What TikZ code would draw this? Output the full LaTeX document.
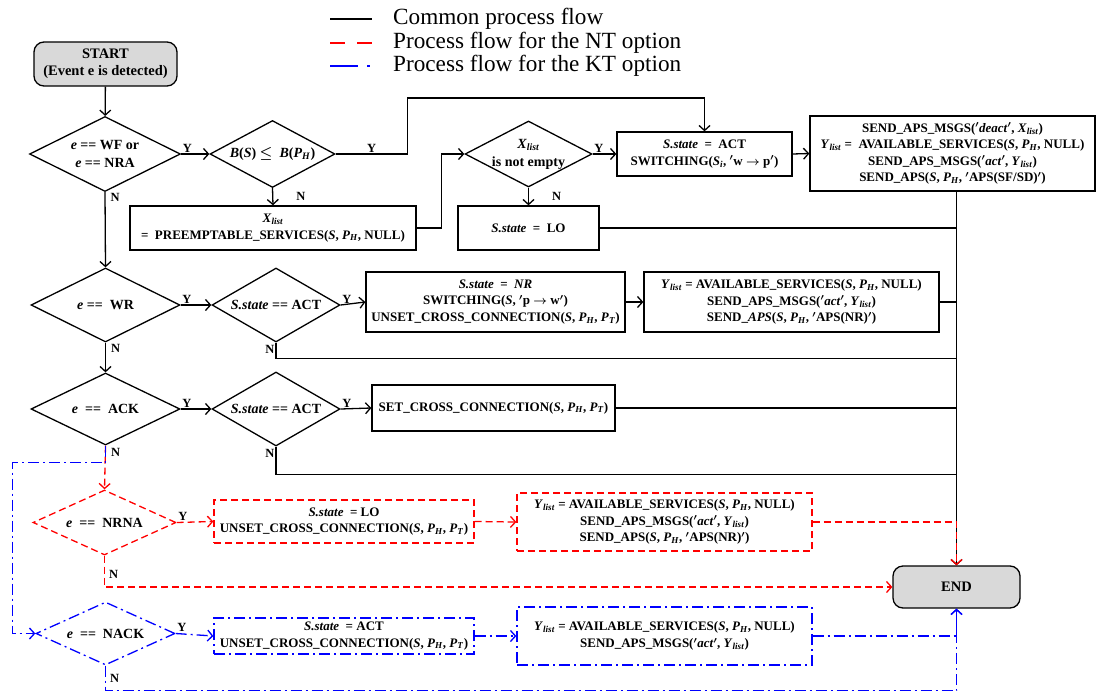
\documentclass[tikz,border=0pt]{standalone}
\usepackage{amsmath,amssymb}
\usepackage{fontspec}
\setmainfont{Liberation Serif}
\usetikzlibrary{arrows.meta,shapes.geometric,positioning,calc}
\definecolor{termgray}{RGB}{217,217,217}
\definecolor{ntred}{RGB}{255,0,0}
\definecolor{ktblue}{RGB}{0,0,255}
\newcommand{\iv}[1]{\textit{#1}}
\newcommand{\xl}{\textit{X}\textsubscript{\textit{list}}}
\newcommand{\yl}{\textit{Y}\textsubscript{\textit{list}}}
\newcommand{\pH}{\textit{P}\textsubscript{\textit{H}}}
\newcommand{\pT}{\textit{P}\textsubscript{\textit{T}}}
\newcommand{\pr}{\ensuremath{{}^{\prime}}}
\newcommand{\st}{\textit{S.state}}
\tikzset{
  term/.style={rectangle, rounded corners=10pt, draw=black, fill=termgray, line width=1.3pt,
               align=center, font=\fontsize{14.5}{17}\selectfont\bfseries, inner sep=1pt},
  proc/.style={rectangle, draw=black, line width=1.3pt, align=center,
               font=\fontsize{13}{16.5}\selectfont\bfseries\boldmath, inner sep=0pt},
  dec/.style={diamond, draw=black, line width=1.3pt, inner sep=0pt},
  dtxt/.style={font=\fontsize{14}{18}\selectfont\bfseries\boldmath, align=center, inner sep=0pt},
  yn/.style={font=\fontsize{12.5}{14}\selectfont\bfseries, inner sep=1pt},
  conn/.style={line width=1.3pt},
  flow/.style={conn, -{Straight Barb[length=5pt,width=11pt]}},
  nt/.style={draw=ntred, dash pattern=on 7pt off 4pt},
  kt/.style={draw=ktblue, dash pattern=on 11pt off 4pt on 2pt off 4pt},
  legtxt/.style={font=\fontsize{23.2}{24}\selectfont, anchor=west, inner sep=0pt},
}

\begin{document}
\begin{tikzpicture}[x=1pt, y=-1pt]
  \useasboundingbox (0,0) rectangle (1099,693);
  % legend
  \draw[line width=2.6pt] (330,19) -- (372,19);
  \draw[line width=2.6pt, ntred, dash pattern=on 15pt off 12pt] (330,43) -- (372,43);
  \draw[line width=2.6pt, ktblue, dash pattern=on 28pt off 9pt on 3pt off 9pt] (330,66) -- (372,66);
  \node[legtxt] (lg1) at (393,19) {Common process flow};
  \node[legtxt] (lg2) at (393,43) {Process flow for the NT option};
  \node[legtxt] (lg3) at (393,66) {Process flow for the KT option};

  % first row
  \node[term, minimum width=143pt, minimum height=44pt] (start) at (105.5,64)
    {START\\(Event e is detected)};
  \node[dec, minimum width=151pt, minimum height=75pt,
        label={[dtxt]center:\iv{e} == WF or\\\iv{e} == NRA}] (d1) at (105,154) {};
  \node[dec, minimum width=125pt, minimum height=67pt,
        label={[dtxt]center:\iv{B}(\iv{S}) $\leq$\ \ \iv{B}(\pH)}] (d2) at (272.5,154) {};
  \node[proc, minimum width=286pt, minimum height=44pt] (xl) at (273,228)
    {\xl\\= \ PREEMPTABLE\_SERVICES(\iv{S}, \pH, NULL)};
  \node[dec, minimum width=127pt, minimum height=66pt,
        label={[dtxt]center:\xl\\is not empty}] (d3) at (528.5,154) {};
  \node[proc, minimum width=141pt, minimum height=44pt] (lo) at (528.5,228)
    {\st\ \ =\ \ LO};
  \node[proc, minimum width=175pt, minimum height=44pt] (act) at (704.5,154)
    {\st\ \ =\ \ ACT\\SWITCHING(\iv{S}\textsubscript{\iv{i}}, \pr w $\rightarrow$ p\pr)};
  \node[proc, minimum width=285pt, minimum height=75pt] (snd1) at (952.5,153.5)
    {SEND\_APS\_MSGS(\pr\iv{deact}\pr, \xl)\\
     \yl\ = \ AVAILABLE\_SERVICES(\iv{S}, \pH, NULL)\\
     SEND\_APS\_MSGS(\pr\iv{act}\pr, \yl)\\
     SEND\_APS(\iv{S}, \pH, \pr APS(SF/SD)\pr)};
  \node[term, minimum width=127pt, minimum height=42pt] (end) at (956.5,587) {END};

  % second row
  \node[dec, minimum width=149pt, minimum height=74pt,
        label={[dtxt]center:\iv{e} == \ WR}] (d4) at (105.5,305) {};
  \node[dec, minimum width=128pt, minimum height=74pt,
        label={[dtxt]center:\st\ == ACT}] (d5) at (276,305) {};
  \node[proc, minimum width=259pt, minimum height=60pt] (nr) at (495.5,302)
    {\st\ \ =\ \ \iv{NR}\\SWITCHING(\iv{S}, \pr p $\rightarrow$ w\pr)\\
     UNSET\_CROSS\_CONNECTION(\iv{S}, \pH, \pT)};
  \node[proc, minimum width=295pt, minimum height=60pt] (snd2) at (791.5,302)
    {\yl\ = AVAILABLE\_SERVICES(\iv{S}, \pH, NULL)\\
     SEND\_APS\_MSGS(\pr\iv{act}\pr, \yl)\\
     SEND\_\iv{APS}(\iv{S}, \pH, \pr APS(NR)\pr)};

  % third row
  \node[dec, minimum width=149pt, minimum height=72pt,
        label={[dtxt]center:\iv{e} \ == \ ACK}] (d6) at (105.5,409) {};
  \node[dec, minimum width=128pt, minimum height=74pt,
        label={[dtxt]center:\st\ == ACT}] (d7) at (276,409) {};
  \node[proc, minimum width=243pt, minimum height=46pt] (setcc) at (493.5,408)
    {SET\_CROSS\_CONNECTION(\iv{S}, \pH, \pT)};

  % NT option
  \node[dec, nt, minimum width=143pt, minimum height=65pt,
        label={[dtxt]center:\iv{e} \ == \ NRNA}] (d8) at (104.5,522.5) {};
  \node[proc, nt, minimum width=260pt, minimum height=43pt] (locc) at (344,521.5)
    {\st\ \ = LO\\UNSET\_CROSS\_CONNECTION(\iv{S}, \pH, \pT)};
  \node[proc, nt, minimum width=295pt, minimum height=58pt] (snd3) at (664.5,522)
    {\yl\ = AVAILABLE\_SERVICES(\iv{S}, \pH, NULL)\\
     SEND\_APS\_MSGS(\pr\iv{act}\pr, \yl)\\
     SEND\_APS(\iv{S}, \pH, \pr APS(NR)\pr)};

  % KT option
  \node[dec, kt, minimum width=139pt, minimum height=63pt,
        label={[dtxt]center:\iv{e} \ == \ NACK}] (d9) at (105.5,633.5) {};
  \node[proc, kt, minimum width=260pt, minimum height=36pt] (actcc) at (344,636)
    {\st\ \ = ACT\\UNSET\_CROSS\_CONNECTION(\iv{S}, \pH, \pT)};
  \node[proc, kt, minimum width=295pt, minimum height=58pt] (snd4) at (664.5,636)
    {\yl\ = AVAILABLE\_SERVICES(\iv{S}, \pH, NULL)\\
     SEND\_APS\_MSGS(\pr\iv{act}\pr, \yl)};

  % common flow
  \draw[flow] (start) -- (d1);
  \draw[flow] (d1.east) -- node[yn, pos=0, anchor=south west] (y1) {Y} (d2.west);
  \draw[flow] (d2.east) -- node[yn, midway, above] (y2) {Y} ++(72,0) -- ++(0,-56) -| (act.north);
  \draw[flow] (d2.south) -- node[yn, midway, right, xshift=22pt] (n2) {N} (xl.north);
  \draw[flow] (xl.east) -- ++(25,0) |- (d3.west);
  \draw[flow] (d3.east) -- node[yn, pos=0, anchor=south west] (y3) {Y} (act.west);
  \draw[flow] (d3.south) -- node[yn, midway, right, xshift=22pt] (n3) {N} (lo.north);
  \draw[flow] (act.east) -- (snd1.west);
  \draw[conn] (lo.east) -- (lo.east -| end.north);
  \draw[flow] (d1.south) -- node[yn, pos=0, anchor=north west, xshift=4pt] (n1) {N} (d4.north);
  \draw[flow] (d4.east) -- node[yn, pos=0, anchor=south west] (y4) {Y} (d5.west);
  \draw[flow] (d5.east) -- node[yn, pos=0, anchor=south west] (y5) {Y} (nr.west);
  \draw[flow] (nr.east) -- (snd2.west);
  \draw[conn] (snd2.east) -- (snd2.east -| end.north);
  \draw[conn] (d5.south) -- node[yn, pos=0, anchor=north east, yshift=-1pt] (n5) {N} ++(0,16) -| (end.north);
  \draw[flow] (d4.south) -- node[yn, pos=0, anchor=north west, xshift=4pt] (n4) {N} (d6.north);
  \draw[flow] (d6.east) -- node[yn, pos=0, anchor=south west] (y6) {Y} (d7.west);
  \draw[flow] (d7.east) -- node[yn, pos=0, anchor=south west] (y7) {Y} (setcc.west);
  \draw[conn] (setcc.east) -- (setcc.east -| end.north);
  \draw[conn] (d7.south) -- node[yn, pos=0, anchor=north east, yshift=-1pt] (n7) {N} ++(0,28) -| (end.north);
  \draw[flow] (end.north |- snd1.south) -- (end.north);

  % NT flow
  \draw[flow, nt] (d6.south) -- node[yn, pos=0, anchor=north west, xshift=4pt, yshift=-1pt] (n6) {N} (d8.north);
  \draw[flow, nt] (d8.east) -- node[yn, pos=0, anchor=south west] (y8) {Y} (locc.west);
  \draw[flow, nt] (locc.east) -- (snd3.west);
  \draw[flow, nt] (snd3.east) -| (end.north);
  \draw[flow, nt] (d8.south) |- node[yn, pos=0.3, right, xshift=3pt] (n8) {N} (end.west);

  % KT flow
  \draw[flow, kt] (d6.south) -- ++(0,17) -- ++(-93,0) |- (d9.west);
  \draw[flow, kt] (d9.east) -- node[yn, pos=0, anchor=south west] (y9) {Y} (actcc.west);
  \draw[flow, kt] (actcc.east) -- (snd4.west);
  \draw[flow, kt] (snd4.east) -| (end.south);
  \draw[flow, kt] (d9.south) -- node[yn, pos=0.5, right, xshift=3pt] (n9) {N} ++(0,25) -| (end.south);
\end{tikzpicture}
\end{document}
